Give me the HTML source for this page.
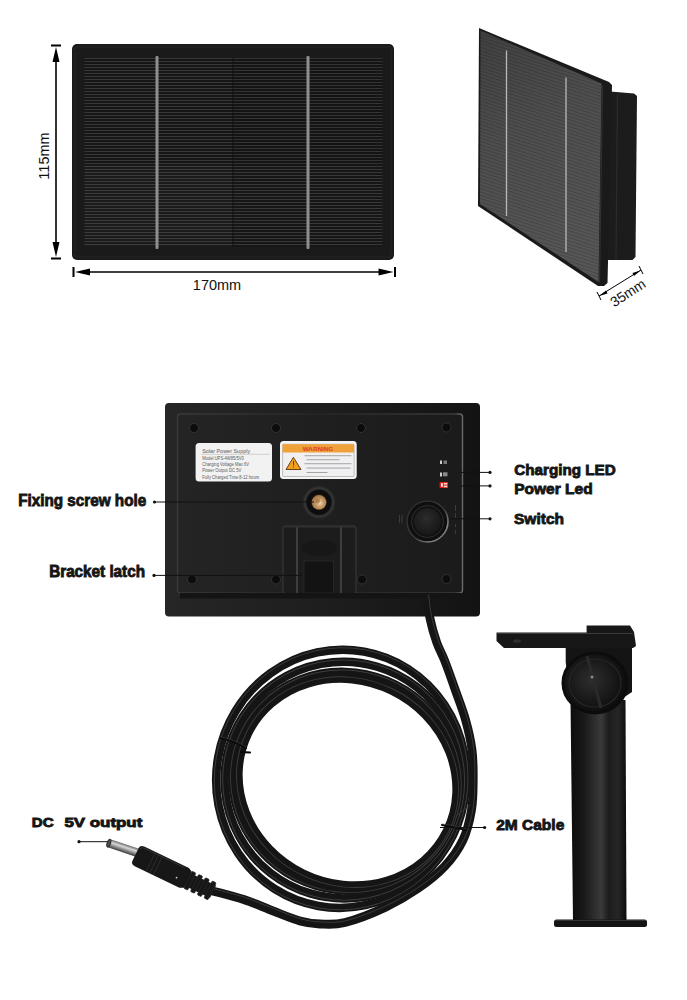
<!DOCTYPE html>
<html><head><meta charset="utf-8">
<style>
html,body{margin:0;padding:0;background:#fff;width:687px;height:1000px;overflow:hidden}
svg{display:block}
.t{font-family:"Liberation Sans",sans-serif}
</style></head><body>
<svg width="687" height="1000" viewBox="0 0 687 1000">
<defs>
  <pattern id="lines1" x="0" y="0" width="8" height="3" patternUnits="userSpaceOnUse">
    <rect width="8" height="3" fill="#161616"/>
    <rect y="1" width="8" height="1" fill="#383838"/>
  </pattern>
  <pattern id="lines2" x="0" y="0" width="8" height="3.2" patternUnits="userSpaceOnUse" patternTransform="rotate(18)">
    <rect y="1.6" width="8" height="0.9" fill="#000" opacity="0.18"/>
  </pattern>
  <linearGradient id="face2" x1="0" y1="0" x2="0.3" y2="1">
    <stop offset="0" stop-color="#404040"/>
    <stop offset="0.45" stop-color="#4e4e4e"/>
    <stop offset="1" stop-color="#565656"/>
  </linearGradient>

  <linearGradient id="metal" x1="0" y1="0" x2="0" y2="1">
    <stop offset="0" stop-color="#6a6a6a"/>
    <stop offset="0.35" stop-color="#d8d8d8"/>
    <stop offset="0.6" stop-color="#9a9a9a"/>
    <stop offset="1" stop-color="#3a3a3a"/>
  </linearGradient>
  <linearGradient id="pole" x1="0" y1="0" x2="1" y2="0">
    <stop offset="0" stop-color="#0c0c0c"/>
    <stop offset="0.25" stop-color="#1a1a1a"/>
    <stop offset="0.55" stop-color="#3a3a3a"/>
    <stop offset="0.68" stop-color="#1c1c1c"/>
    <stop offset="0.85" stop-color="#262626"/>
    <stop offset="1" stop-color="#0c0c0c"/>
  </linearGradient>
  <radialGradient id="ball" cx="0.45" cy="0.45" r="0.6">
    <stop offset="0" stop-color="#2e2e2e"/>
    <stop offset="0.7" stop-color="#141414"/>
    <stop offset="1" stop-color="#0a0a0a"/>
  </radialGradient>

  <linearGradient id="backOuter" x1="0" y1="0" x2="1" y2="0">
    <stop offset="0" stop-color="#262626"/>
    <stop offset="0.5" stop-color="#1e1e1e"/>
    <stop offset="1" stop-color="#131313"/>
  </linearGradient>
  <linearGradient id="backInner" x1="0" y1="0" x2="1" y2="0">
    <stop offset="0" stop-color="#242424"/>
    <stop offset="0.5" stop-color="#1f1f1f"/>
    <stop offset="1" stop-color="#1b1b1b"/>
  </linearGradient>

  <linearGradient id="rim" x1="0" y1="0" x2="1" y2="1">
    <stop offset="0" stop-color="#2a2a2a"/>
    <stop offset="0.55" stop-color="#3a3a3a"/>
    <stop offset="0.8" stop-color="#8a8a8a"/>
    <stop offset="1" stop-color="#444"/>
  </linearGradient>
  <radialGradient id="btn" cx="0.45" cy="0.4" r="0.7">
    <stop offset="0" stop-color="#2c2c2c"/>
    <stop offset="1" stop-color="#141414"/>
  </radialGradient>

  <linearGradient id="innerEdge" x1="0" y1="0" x2="1" y2="0">
    <stop offset="0" stop-color="#3a3a3a"/>
    <stop offset="0.5" stop-color="#262626"/>
    <stop offset="0.97" stop-color="#3a3a3a"/>
    <stop offset="1" stop-color="#6a6a6a"/>
  </linearGradient>

  <radialGradient id="brass" cx="0.55" cy="0.55" r="0.6">
    <stop offset="0" stop-color="#f0d8b0"/>
    <stop offset="0.45" stop-color="#c89a68"/>
    <stop offset="1" stop-color="#9a6e40"/>
  </radialGradient>
  <radialGradient id="halo" cx="0.5" cy="0.5" r="0.5">
    <stop offset="0.6" stop-color="#333" stop-opacity="0"/>
    <stop offset="0.85" stop-color="#3a3a3a" stop-opacity="0.8"/>
    <stop offset="1" stop-color="#333" stop-opacity="0"/>
  </radialGradient>
</defs>

<!-- ===== Panel 1 front ===== -->
<rect x="72" y="44" width="322" height="216" rx="5" fill="#1a1a1a"/>
<rect x="75" y="47" width="316" height="210" rx="3" fill="none" stroke="#222" stroke-width="1.5"/>
<rect x="84.5" y="58" width="298" height="189" fill="url(#lines1)"/>
<rect x="233" y="58" width="149.5" height="107" fill="#000" opacity="0.08"/>
<rect x="84.5" y="165" width="148.5" height="82" fill="#fff" opacity="0.025"/>
<line x1="233" y1="58" x2="233" y2="247" stroke="#0e0e0e" stroke-width="0.9"/>
<rect x="155.5" y="56" width="3" height="193" rx="1" fill="#8e8e8e"/>
<rect x="306.5" y="56" width="3" height="193" rx="1" fill="#8e8e8e"/>

<!-- dimension lines -->
<g stroke="#000" fill="#000">
  <line x1="51" y1="45.5" x2="61" y2="45.5" stroke-width="2"/>
  <line x1="56" y1="60" x2="56" y2="244" stroke-width="1.6"/>
  <polygon points="56,47 52.5,62 59.5,62" stroke="none"/>
  <polygon points="56,257 52.5,242 59.5,242" stroke="none"/>
  <line x1="51" y1="258.5" x2="61" y2="258.5" stroke-width="2"/>
  <line x1="73.5" y1="267" x2="73.5" y2="277" stroke-width="2"/>
  <line x1="88" y1="272" x2="380" y2="272" stroke-width="1.6"/>
  <polygon points="75,272 90,268.5 90,275.5" stroke="none"/>
  <polygon points="393.5,272 378.5,268.5 378.5,275.5" stroke="none"/>
  <line x1="395" y1="267" x2="395" y2="277" stroke-width="2"/>
</g>
<text class="t" x="217" y="290" font-size="14.5" text-anchor="middle" fill="#111">170mm</text>
<text class="t" transform="translate(49,156) rotate(-90)" font-size="14.5" text-anchor="middle" fill="#111">115mm</text>

<!-- ===== Panel side view ===== -->
<polygon points="604,91 634,93.5 637,96 635.5,257 632.5,260 615,260 600,260" fill="#1c1c1c"/>
<line x1="617.5" y1="94" x2="616" y2="259" stroke="#2c2c2c" stroke-width="1.2"/>
<polygon points="479,28 609,82 612,85 607.5,283 604,286 598,286 478,206" fill="#1a1a1a"/>
<polygon points="480.5,30.5 601.5,83.5 598.5,282 480,204" fill="url(#face2)"/>
<polygon points="480.5,30.5 601.5,83.5 598.5,282 480,204" fill="url(#lines2)"/>
<line x1="602.5" y1="86" x2="599.5" y2="282" stroke="#303030" stroke-width="1.2"/>
<g stroke="#b8b8b8" stroke-width="1.3">
  <line x1="506.5" y1="50.5" x2="506.5" y2="216"/>
  <line x1="566" y1="77.5" x2="566" y2="252"/>
</g>
<g stroke="#000" fill="#000">
  <line x1="599" y1="296" x2="641" y2="270" stroke-width="1"/>
  <line x1="597" y1="292" x2="601" y2="300" stroke-width="1"/>
  <line x1="639" y1="266" x2="643" y2="274" stroke-width="1"/>
  <polygon points="599.5,296 606,290.5 607.5,293.5" stroke="none"/>
  <polygon points="640.5,270.5 634,276 632.5,273" stroke="none"/>
</g>
<text class="t" transform="translate(630.5,297) rotate(-33)" font-size="14" text-anchor="middle" fill="#111">35mm</text>

<!-- ===== Back panel ===== -->
<rect x="165" y="403" width="315" height="213.5" rx="4" fill="url(#backOuter)"/>
<rect x="177.5" y="414" width="285" height="179" rx="3" fill="url(#backInner)" stroke="url(#innerEdge)" stroke-width="1.4"/>


<!-- back details -->
<g fill="#0c0c0c" stroke="#333" stroke-width="1">
  <circle cx="194" cy="428" r="4.5"/>
  <circle cx="276" cy="428" r="4.5"/>
  <circle cx="361" cy="428" r="4.5"/>
  <circle cx="446.5" cy="427.5" r="4.5"/>
  <circle cx="192" cy="579.5" r="4.5"/>
  <circle cx="276" cy="579.5" r="4.5"/>
  <circle cx="362" cy="579.5" r="4.5"/>
  <circle cx="446.5" cy="579" r="4.5"/>
</g>
<!-- label 1 -->
<rect x="195.6" y="443" width="76.4" height="38.5" rx="3.5" fill="#f2f2f2"/>
<g class="t" fill="#5a5a5a">
  <text x="202.2" y="452.7" font-size="5.4" textLength="48" lengthAdjust="spacingAndGlyphs">Solar Power Supply</text>
  <line x1="201" y1="454.3" x2="270" y2="454.3" stroke="#aaa" stroke-width="0.5"/>
  <text x="202.2" y="460" font-size="4.6" textLength="41.7" lengthAdjust="spacingAndGlyphs">Model:UPS-4W85/5V0</text>
  <text x="202.2" y="466.2" font-size="4.6" textLength="46.8" lengthAdjust="spacingAndGlyphs">Charging Voltage Max 6V</text>
  <text x="202.2" y="472.3" font-size="4.6" textLength="39.1" lengthAdjust="spacingAndGlyphs">Power Output DC 5V</text>
  <text x="202.2" y="478.7" font-size="4.6" textLength="57" lengthAdjust="spacingAndGlyphs">Fully Charged Time:8-12 hours</text>
</g>
<!-- label 2 -->
<rect x="280" y="441" width="76.7" height="38" rx="3.5" fill="#f4f4f4"/>
<rect x="282.6" y="444.2" width="71.5" height="32.3" rx="1" fill="#f0f0f2" stroke="#9a9a9a" stroke-width="0.6"/>
<rect x="282.6" y="444.2" width="71.5" height="8.3" fill="#f0a23a"/>
<text class="t" x="318" y="451" font-size="5.6" text-anchor="middle" fill="#d8402a" font-weight="bold" textLength="30.5" lengthAdjust="spacingAndGlyphs">WARNING</text>
<polygon points="293.4,457.3 286,469.5 301,469.5" fill="#f0a020" stroke="#6a4210" stroke-width="1"/>
<rect x="293" y="461" width="1" height="4.5" fill="#6a4210"/>
<rect x="293" y="466.5" width="1" height="1" fill="#6a4210"/>
<g fill="#9a9a9a">
  <rect x="304.5" y="455.3" width="47" height="0.9"/>
  <rect x="306.5" y="459.3" width="33" height="0.9"/>
  <rect x="304.5" y="463.3" width="47" height="0.9"/>
  <rect x="306.5" y="467.6" width="44" height="0.9"/>
  <rect x="306.5" y="472" width="21" height="0.9"/>
</g>
<!-- brass screw -->
<circle cx="319" cy="502.3" r="17" fill="url(#halo)"/>
<circle cx="319" cy="502.3" r="12.5" fill="#0d0d0d"/>
<circle cx="319" cy="502.3" r="8" fill="#2a2418"/>
<circle cx="319" cy="502.3" r="7.3" fill="url(#brass)"/>
<circle cx="317.5" cy="501" r="2.5" fill="#8a6038" opacity="0.5"/>
<!-- latch -->
<rect x="283" y="526" width="73" height="67.5" rx="2" fill="#1c1c1c" stroke="#3a3a3a" stroke-width="1"/>
<ellipse cx="319" cy="548" rx="18" ry="8" fill="#121212" opacity="0.4"/>
<line x1="297" y1="527" x2="297" y2="593" stroke="#4e4e4e" stroke-width="1.4"/>
<line x1="341" y1="527" x2="341" y2="593" stroke="#4e4e4e" stroke-width="1.4"/>
<line x1="284" y1="527" x2="355" y2="527" stroke="#333" stroke-width="1"/>
<rect x="304" y="561" width="29.5" height="32" fill="#131313" stroke="#2a2a2a" stroke-width="0.8"/>
<!-- LEDs -->
<g>
  <rect x="440" y="460.5" width="2" height="3.5" fill="#cfcfcf"/>
  <rect x="443.5" y="460.5" width="3.5" height="3.5" fill="#7a7a7a"/>
  <rect x="440" y="472.5" width="2" height="4" fill="#cfcfcf"/>
  <rect x="443" y="472.3" width="4.5" height="4" fill="#8a8a8a"/>
  <rect x="439.6" y="482" width="8.4" height="6" fill="#d82020"/>
  <rect x="441" y="483.2" width="1.8" height="3.6" fill="#fff0e8"/>
  <rect x="443.8" y="483" width="3.4" height="1.5" fill="#ffe0d0"/>
  <rect x="443.8" y="485.6" width="3.4" height="1.6" fill="#ffe0d0"/>
</g>
<!-- switch -->
<circle cx="427.5" cy="521.5" r="21.5" fill="#0f0f0f"/>
<circle cx="427.5" cy="521.5" r="20.5" fill="none" stroke="url(#rim)" stroke-width="1.6"/>
<circle cx="427.5" cy="521.5" r="16" fill="#111" stroke="#2e2e2e" stroke-width="1"/>
<circle cx="427.5" cy="521.5" r="13.5" fill="url(#btn)"/>
<g fill="#3c3c3c">
  <rect x="399" y="515" width="1" height="8"/><rect x="401.5" y="515" width="1" height="8"/>
  <rect x="455" y="505" width="1" height="6"/><rect x="455" y="513" width="1" height="5"/><rect x="455" y="524" width="1" height="3"/><rect x="455" y="530" width="1" height="4"/>
</g>
<!-- shadow band bottom inner box -->
<rect x="180" y="593" width="281" height="5.5" fill="#141414"/>



<!-- ===== cable ===== -->
<g fill="none" stroke-linecap="round">
  <ellipse cx="341.2" cy="778.8" rx="124.9" ry="129.2" transform="rotate(10.2 341.2 778.8)" stroke="#151515" stroke-width="8.5"/>
  <ellipse cx="343.7" cy="780.1" rx="119.2" ry="118.2" transform="rotate(16.5 343.7 780.1)" stroke="#151515" stroke-width="8.5"/>
  <ellipse cx="345.9" cy="781.3" rx="114.3" ry="108.6" transform="rotate(22.1 345.9 781.3)" stroke="#151515" stroke-width="8.5"/>
  <ellipse cx="347.5" cy="782.1" rx="110.8" ry="101.7" transform="rotate(26.0 347.5 782.1)" stroke="#151515" stroke-width="8.5"/>
  <ellipse cx="341.2" cy="778.8" rx="126.8" ry="131.2" transform="rotate(10.2 341.2 778.8)" stroke="#4a4a4a" stroke-width="0.9" opacity="0.75"/>
  <ellipse cx="343.7" cy="780.1" rx="121.1" ry="120.1" transform="rotate(16.5 343.7 780.1)" stroke="#4a4a4a" stroke-width="0.9" opacity="0.75"/>
  <ellipse cx="345.9" cy="781.3" rx="116.2" ry="110.5" transform="rotate(22.1 345.9 781.3)" stroke="#4a4a4a" stroke-width="0.9" opacity="0.75"/>
  <ellipse cx="347.5" cy="782.1" rx="112.7" ry="103.6" transform="rotate(26.0 347.5 782.1)" stroke="#4a4a4a" stroke-width="0.9" opacity="0.75"/>
  <path d="M427.0,597.0 C427.5,600.6 428.5,611.2 430.1,618.8 C431.7,626.4 434.3,635.5 436.7,642.4 C439.1,649.3 441.3,652.1 444.4,660.0 C447.5,667.9 451.8,680.0 455.3,690.0 C458.8,700.0 462.8,710.0 465.6,720.0 C468.4,730.0 470.7,740.0 472.0,750.0 C473.3,760.0 473.3,770.0 473.2,780.0 C473.1,790.0 473.2,800.0 471.5,810.0 C469.8,820.0 467.4,830.7 463.0,840.0 C458.6,849.3 452.5,857.9 445.0,866.0 C437.5,874.1 428.0,881.6 418.0,888.5 C408.0,895.4 397.2,901.8 385.0,907.5 C372.8,913.2 355.8,919.8 345.0,922.5 C334.2,925.2 327.5,924.2 320.0,924.0 C312.5,923.8 307.9,923.2 300.0,921.0 C292.1,918.8 282.2,914.5 272.8,910.9 C263.4,907.3 254.0,902.9 243.7,899.5 C233.4,896.1 216.4,892.0 211.0,890.5" stroke="#151515" stroke-width="8.8"/>
  <path d="M427.0,597.0 C427.5,600.6 428.5,611.2 430.1,618.8 C431.7,626.4 434.3,635.5 436.7,642.4 C439.1,649.3 441.3,652.1 444.4,660.0 C447.5,667.9 451.8,680.0 455.3,690.0 C458.8,700.0 462.8,710.0 465.6,720.0 C468.4,730.0 470.7,740.0 472.0,750.0 C473.3,760.0 473.3,770.0 473.2,780.0 C473.1,790.0 473.2,800.0 471.5,810.0 C469.8,820.0 467.4,830.7 463.0,840.0 C458.6,849.3 452.5,857.9 445.0,866.0 C437.5,874.1 428.0,881.6 418.0,888.5 C408.0,895.4 397.2,901.8 385.0,907.5 C372.8,913.2 355.8,919.8 345.0,922.5 C334.2,925.2 327.5,924.2 320.0,924.0 C312.5,923.8 307.9,923.2 300.0,921.0 C292.1,918.8 282.2,914.5 272.8,910.9 C263.4,907.3 254.0,902.9 243.7,899.5 C233.4,896.1 216.4,892.0 211.0,890.5" stroke="#505050" stroke-width="0.9" opacity="0.7" transform="translate(1.6,-2)"/>
  <g stroke-linecap="round">
    <path d="M220.5,738 C230,740 238,743 246,748" stroke="#0a0a0a" stroke-width="2.2"/>
    <path d="M220.5,736.8 C230,738.8 238,741.8 246,746.8" stroke="#555" stroke-width="0.6" opacity="0.7"/>
    <path d="M241,752 L250,752.5" stroke="#0a0a0a" stroke-width="2.2"/>
    <path d="M442,825 C450,826 458,828 466,830" stroke="#0a0a0a" stroke-width="2.2"/>
    <path d="M442,823.8 C450,824.8 458,826.8 466,828.8" stroke="#555" stroke-width="0.6" opacity="0.7"/>
    <path d="M456,816 L470,805" stroke="#3a3a3a" stroke-width="0.8"/>
  </g>
</g>
<!-- ===== DC connector ===== -->
<g transform="translate(107.7,842.8) rotate(18.5)">
  <rect x="0" y="-4.3" width="34" height="8.6" rx="1.5" fill="url(#metal)"/>
  <ellipse cx="1.2" cy="0" rx="1.8" ry="4.2" fill="#4a4a4a" stroke="#222" stroke-width="0.8"/>
</g>
<g transform="translate(135.5,854.5) rotate(25.7)">
  <path d="M0,-7 Q0,-11 5,-11 L54,-11 L58,-9 L58,9 L54,11 L5,11 Q0,11 0,7 Z" fill="#171717"/>
  <path d="M2,-7 Q2,-9.5 6,-9.5 L50,-9.5" fill="none" stroke="#333" stroke-width="1"/>
  <g stroke="#2e2e2e" stroke-width="0.9"><line x1="17" y1="-10.5" x2="17" y2="10.5"/><line x1="21" y1="-10.5" x2="21" y2="10.5"/><line x1="25" y1="-10.5" x2="25" y2="10.5"/></g>
  <rect x="56" y="-7" width="30" height="14" fill="#151515"/>
  <g fill="#171717" stroke="#2a2a2a" stroke-width="0.6">
    <rect x="58" y="-9.5" width="4.5" height="19" rx="1"/>
    <rect x="65.5" y="-9.5" width="4.5" height="19" rx="1"/>
    <rect x="73" y="-9.5" width="4.5" height="19" rx="1"/>
    <rect x="80.5" y="-9.5" width="4.5" height="19" rx="1"/>
  </g>
  <circle cx="47" cy="3" r="0.9" fill="#ccc"/>
</g>

<!-- ===== bracket ===== -->
<polygon points="565.7,646 632,646 632,692 620,700 570,700 565.7,662" fill="#141414"/>
<polygon points="496.5,632.5 586.6,632.5 586.6,625.5 630,625.5 634,632 636,646 633,648 504,648 496.5,641" fill="#171717"/>
<line x1="497" y1="633.5" x2="633" y2="633.5" stroke="#3a3a3a" stroke-width="1"/>
<ellipse cx="517" cy="641" rx="4" ry="1.8" fill="#2e2e2e"/>
<polygon points="570.5,700 625.5,700 626.5,921 573,921" fill="url(#pole)"/>
<ellipse cx="595" cy="683" rx="32" ry="30" fill="url(#ball)" stroke="#0c0c0c" stroke-width="3"/>
<ellipse cx="595" cy="683" rx="26" ry="24" fill="none" stroke="#262626" stroke-width="1.2"/>
<line x1="587" y1="656" x2="601" y2="708" stroke="#2a2a2a" stroke-width="3"/>
<circle cx="592" cy="677" r="1.5" fill="#888"/>
<rect x="554" y="919.5" width="93" height="7.5" rx="2.5" fill="#141414"/>
<line x1="555" y1="920.5" x2="646" y2="920.5" stroke="#333" stroke-width="1"/>

<!-- ===== annotations ===== -->
<g class="t" font-weight="bold" fill="#151515" stroke="#151515" stroke-width="0.85">
  <text x="18.2" y="505.5" font-size="16" textLength="128" lengthAdjust="spacingAndGlyphs">Fixing screw hole</text>
  <text x="49.2" y="577" font-size="15.8" textLength="95.8" lengthAdjust="spacingAndGlyphs">Bracket latch</text>
  <text x="514.2" y="475.4" font-size="15.4" textLength="101.6" lengthAdjust="spacingAndGlyphs">Charging LED</text>
  <text x="514.2" y="493.8" font-size="15.4" textLength="78.5" lengthAdjust="spacingAndGlyphs">Power Led</text>
  <text x="514" y="524" font-size="15.4" textLength="50" lengthAdjust="spacingAndGlyphs">Switch</text>
  <text x="31.8" y="827.4" font-size="13.4" textLength="21.8" lengthAdjust="spacingAndGlyphs">DC</text>
  <text x="64.4" y="827.4" font-size="13.4" textLength="77.9" lengthAdjust="spacingAndGlyphs">5V output</text>
  <text x="496.2" y="829.7" font-size="15" textLength="68.1" lengthAdjust="spacingAndGlyphs">2M Cable</text>
</g>
<g stroke="#111" stroke-width="1">
  <line x1="154.5" y1="502" x2="314" y2="502"/>
  <line x1="154" y1="575.4" x2="302" y2="575.4"/>
  <line x1="461" y1="472.4" x2="490" y2="472.4"/>
  <line x1="461" y1="485.9" x2="490" y2="485.9"/>
  <line x1="449" y1="518.8" x2="490" y2="518.8"/>
  <line x1="79" y1="841.7" x2="108" y2="841.7"/>
  <line x1="440" y1="827.5" x2="484.6" y2="827.5"/>
</g>
<g fill="#111">
  <circle cx="154.5" cy="502" r="1.6"/>
  <circle cx="154" cy="575.4" r="1.6"/>
  <circle cx="490" cy="472.4" r="1.6"/>
  <circle cx="490" cy="485.9" r="1.6"/>
  <circle cx="490" cy="518.8" r="1.6"/>
  <circle cx="79" cy="841.7" r="1.6"/>
  <circle cx="484.6" cy="827.5" r="1.6"/>
</g>

</svg>
</body></html>
